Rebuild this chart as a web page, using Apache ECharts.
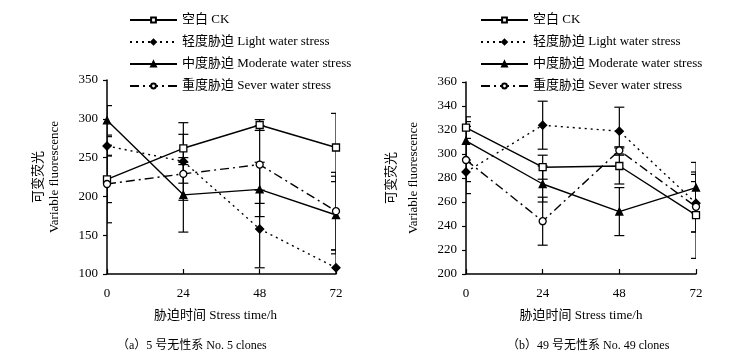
<!DOCTYPE html>
<html>
<head>
<meta charset="utf-8">
<script src="https://cdn.jsdelivr.net/npm/echarts@6/dist/echarts.min.js"></script>
<style>
  html, body { margin: 0; padding: 0; background: #fff; }
  #chart { width: 752px; height: 361px; }
</style>
</head>
<body>
<div id="chart"></div>
<script>
// stress time (h)
const hours = [0, 24, 48, 72];
const seriesNames = [
  "空白 CK",
  "轻度胁迫 Light water stress",
  "中度胁迫 Moderate water stress",
  "重度胁迫 Sever water stress"
];

// (a) clone No. 5
const ckA = [222, 262, 292, 263];
const lightA = [265, 245, 158, 108];
const modA = [298, 202, 209, 176];
const sevA = [216, 229, 241, 181];
const ckAErr = [30, 18, 7, 44];
const lightAErr = [12, 50, 50, 23];
const modAErr = [19, 48, 35, 50];
const sevAErr = [50, 12, 50, 50];

// (b) clone No. 49
const ckB = [322, 289, 290, 249];
const lightB = [285, 324, 319, 259];
const modB = [311, 275, 252, 272];
const sevB = [295, 244, 303, 256];
const ckBErr = [9, 10, 15, 36];
const lightBErr = [8, 20, 20, 24];
const modBErr = [16, 15, 20, 21];
const sevBErr = [28, 20, 3, 21];

const FONT = "'Liberation Serif', 'Noto Sans CJK SC', serif";

const styles = [
  { symbol: "rect", symbolSize: 7, dash: "solid", fill: "#fff" },
  { symbol: "diamond", symbolSize: 8, dash: [2, 4], fill: "#000" },
  { symbol: "triangle", symbolSize: 7, dash: "solid", fill: "#000" },
  { symbol: "circle", symbolSize: 7, dash: [9, 4, 2, 4], fill: "#fff" }
];

function lineSeries(idx, values) {
  return values.map((vals, i) => ({
    name: seriesNames[i],
    type: "line",
    xAxisIndex: idx,
    yAxisIndex: idx,
    data: hours.map((h, k) => [h, vals[k]]),
    color: "#000",
    symbol: styles[i].symbol,
    symbolSize: styles[i].symbolSize,
    showAllSymbol: true,
    lineStyle: { color: "#000", width: 1.4, type: styles[i].dash },
    itemStyle: { color: styles[i].fill, borderColor: "#000", borderWidth: 1.3 },
    z: 3
  }));
}

function errorSeries(idx, values, errs) {
  const rows = [];
  values.forEach((vals, i) => {
    hours.forEach((h, k) => {
      rows.push([h, vals[k] - errs[i][k], vals[k] + errs[i][k]]);
    });
  });
  return {
    type: "custom",
    xAxisIndex: idx,
    yAxisIndex: idx,
    data: rows,
    clip: true,
    silent: true,
    z: 2,
    renderItem: function (params, api) {
      const lo = api.coord([api.value(0), api.value(1)]);
      const hi = api.coord([api.value(0), api.value(2)]);
      const w = 5;
      const st = { stroke: "#000", lineWidth: 1.2 };
      return {
        type: "group",
        children: [
          { type: "line", shape: { x1: lo[0], y1: lo[1], x2: hi[0], y2: hi[1] }, style: st },
          { type: "line", shape: { x1: lo[0] - w, y1: lo[1], x2: lo[0] + w, y2: lo[1] }, style: st },
          { type: "line", shape: { x1: hi[0] - w, y1: hi[1], x2: hi[0] + w, y2: hi[1] }, style: st }
        ]
      };
    }
  };
}

function xAxisCfg(idx, namePad) {
  return {
    type: "value",
    gridIndex: idx,
    min: 0,
    max: 72,
    interval: 24,
    name: "胁迫时间 Stress time/h",
    nameLocation: "middle",
    nameGap: 35,
    nameTextStyle: { fontFamily: FONT, fontSize: 13, color: "#000", padding: namePad },
    axisLine: { show: true, lineStyle: { color: "#000", width: 1.5 } },
    axisTick: { show: true, inside: true, length: 5, lineStyle: { color: "#000", width: 1.2 } },
    axisLabel: { fontFamily: FONT, fontSize: 13, color: "#000", margin: 13 },
    splitLine: { show: false }
  };
}

function yAxisCfg(idx, min, max, interval, gap, lh) {
  return {
    type: "value",
    gridIndex: idx,
    min: min,
    max: max,
    interval: interval,
    name: "可变荧光\nVariable fluorescence",
    nameLocation: "middle",
    nameRotate: 90,
    nameGap: gap,
    nameTextStyle: { fontFamily: FONT, fontSize: 13, color: "#000", lineHeight: lh },
    axisLine: { show: true, lineStyle: { color: "#000", width: 1.5 } },
    axisTick: { show: true, length: 4, lineStyle: { color: "#000", width: 1.2 } },
    axisLabel: { fontFamily: FONT, fontSize: 13, color: "#000", margin: 9 },
    splitLine: { show: false }
  };
}

function legendCfg(left) {
  return {
    orient: "vertical",
    left: left,
    top: 13,
    padding: 0,
    itemWidth: 47,
    itemHeight: 6,
    itemGap: 8,
    data: seriesNames,
    textStyle: { fontFamily: FONT, fontSize: 13, color: "#000", lineHeight: 14 }
  };
}

const chart = echarts.init(document.getElementById("chart"));
chart.setOption({
  animation: false,
  backgroundColor: "#fff",
  title: [
    {
      text: "（a）5 号无性系 No. 5 clones",
      left: 112, top: 335,
      textStyle: { fontFamily: FONT, fontSize: 12, fontWeight: "normal", color: "#000" }
    },
    {
      text: "（b）49 号无性系 No. 49 clones",
      left: 502, top: 335,
      textStyle: { fontFamily: FONT, fontSize: 12, fontWeight: "normal", color: "#000" }
    }
  ],
  legend: [legendCfg(129), legendCfg(480)],
  grid: [
    { left: 107, top: 80, width: 229, height: 194 },
    { left: 466, top: 82, width: 230, height: 192 }
  ],
  xAxis: [xAxisCfg(0, [0, 12, 0, 0]), xAxisCfg(1, 0)],
  yAxis: [yAxisCfg(0, 100, 350, 50, 44, 16), yAxisCfg(1, 200, 360, 20, 41, 22)],
  series: [
    errorSeries(0, [ckA, lightA, modA, sevA], [ckAErr, lightAErr, modAErr, sevAErr]),
    errorSeries(1, [ckB, lightB, modB, sevB], [ckBErr, lightBErr, modBErr, sevBErr]),
    ...lineSeries(0, [ckA, lightA, modA, sevA]),
    ...lineSeries(1, [ckB, lightB, modB, sevB])
  ]
});
</script>
</body>
</html>
